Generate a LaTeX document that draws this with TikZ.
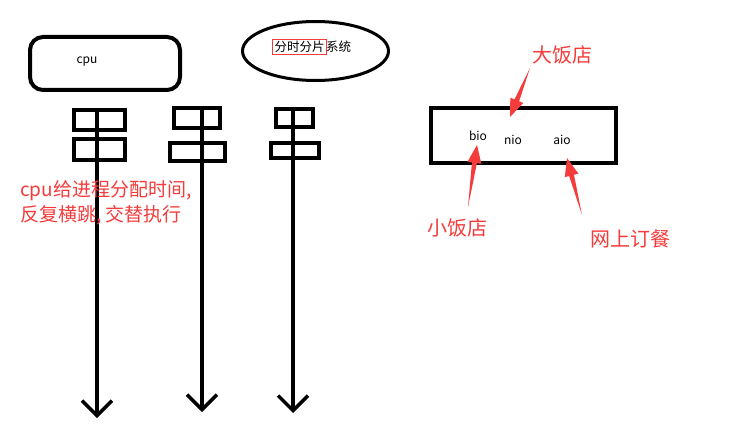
\documentclass[tikz,border=0pt]{standalone}
\usepackage{fontspec}
\setmainfont{Noto Sans CJK SC}
\usetikzlibrary{arrows.meta,calc,shapes.geometric}
\definecolor{mkred}{RGB}{245,60,60}
\tikzset{
  blk/.style={draw=black,line width=4pt},
  stem/.style={draw=black,line width=3.4pt,-{Straight Barb[length=15pt,width=30pt]}},
  smalltxt/.style={font=\fontsize{12}{14}\selectfont,inner sep=0pt},
  redtxt/.style={text=mkred,font=\fontsize{19}{25}\selectfont,inner sep=0pt},
}
\newcommand\wedgearr[2]{%
  \coordinate (wb) at ($(#2)!18pt!(#1)$);
  \fill[mkred] (#1) -- ($(wb)!2.5pt!90:(#2)$) -- ($(wb)!7pt!90:(#2)$) -- (#2)
    -- ($(wb)!7pt!-90:(#2)$) -- ($(wb)!2.5pt!-90:(#2)$) -- cycle;}
\begin{document}
\begin{tikzpicture}[x=1pt,y=-1pt]
\useasboundingbox[fill=white] (0,0) rectangle (737,444);
% cpu box
\node[blk,rounded corners=13pt,minimum width=150pt,minimum height=53pt,inner sep=0pt] (cpubox) at (105,63.5) {};
\node[smalltxt] (cpulbl) at (87,62) {cpu};
% ellipse
\node[draw,ellipse,line width=3pt,minimum width=146pt,minimum height=59pt,inner sep=0pt] (os) at (315.5,51) {};
\node[draw=mkred,line width=0.8pt,inner sep=2pt,font=\fontsize{12.5}{14}\selectfont] (fsfp) at (299.5,47) {分时分片};
\node[anchor=west,inner sep=0pt,font=\fontsize{12.5}{14}\selectfont] (xt) at ($(fsfp.east)+(-1,0)$) {系统};
% process glyphs
\node[blk,minimum width=51pt,minimum height=20pt,inner sep=0pt] (p1a) at (99.5,120) {};
\node[blk,minimum width=51pt,minimum height=21pt,inner sep=0pt] (p1b) at (99.5,149.5) {};
\coordinate (p1s) at (97,108); \coordinate (p1e) at (97,418);
\draw[stem] (p1s) -- (p1e);
\node[blk,minimum width=46pt,minimum height=20pt,inner sep=0pt] (p2a) at (197,118) {};
\node[blk,minimum width=55pt,minimum height=18pt,inner sep=0pt] (p2b) at (197.5,152) {};
\coordinate (p2s) at (202,106); \coordinate (p2e) at (202,412);
\draw[stem] (p2s) -- (p2e);
\node[blk,minimum width=37pt,minimum height=18pt,inner sep=0pt] (p3a) at (294.5,118) {};
\node[blk,minimum width=48pt,minimum height=15pt,inner sep=0pt] (p3b) at (295,150.5) {};
\coordinate (p3s) at (293,107); \coordinate (p3e) at (293,413);
\draw[stem] (p3s) -- (p3e);
% red text left
\node[redtxt,anchor=west,align=left] (note) at (20,202.5) {cpu给进程分配时间,\\反复横跳, 交替执行};
% IO box
\node[blk,minimum width=185pt,minimum height=55pt,inner sep=0pt] (io) at (523.5,135.5) {};
\node[smalltxt] (bio) at (478,136) {bio};
\node[smalltxt] (nio) at (513,140) {nio};
\node[smalltxt] (aio) at (562,140) {aio};
% red labels
\node[redtxt,font=\fontsize{20}{24}\selectfont] (big) at (562,55) {大饭店};
\node[redtxt,font=\fontsize{20}{24}\selectfont] (small) at (457,228) {小饭店};
\node[redtxt,font=\fontsize{20}{24}\selectfont] (net) at (630,239) {网上订餐};
\coordinate (bigt) at (530,68); \coordinate (bigh) at (510,117);
\coordinate (smallt) at (468,207); \coordinate (smallh) at (477,145);
\coordinate (nett) at (582,215); \coordinate (neth) at (567,158);
\wedgearr{bigt}{bigh}
\wedgearr{smallt}{smallh}
\wedgearr{nett}{neth}
\end{tikzpicture}
\end{document}
